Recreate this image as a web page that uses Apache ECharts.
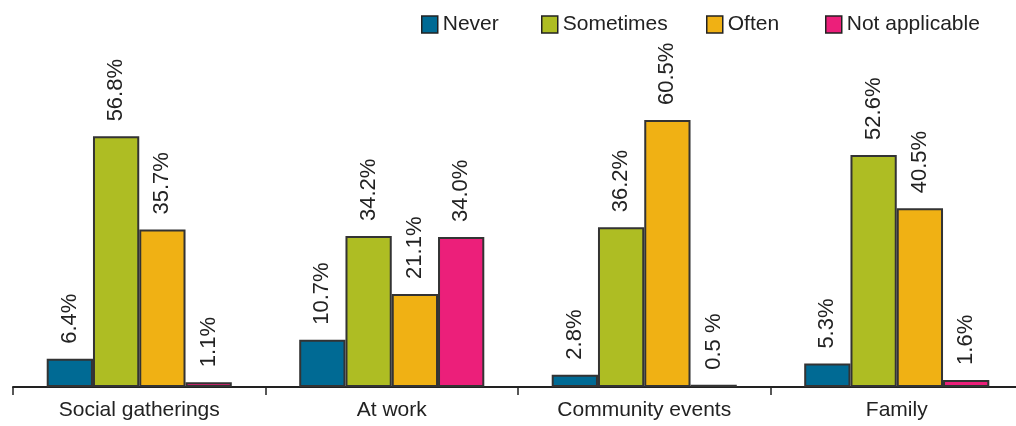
<!DOCTYPE html>
<html>
<head>
<meta charset="utf-8">
<script src="https://cdn.jsdelivr.net/npm/echarts@6/dist/echarts.min.js"></script>
<style>html,body{margin:0;padding:0;background:#fff;overflow:hidden;}#c{width:1023px;height:426px;}</style>
</head>
<body>
<div id="c"></div>
<script>
var categories = ['Social gatherings', 'At work', 'Community events', 'Family'];
var seriesNames = ['Never', 'Sometimes', 'Often', 'Not applicable'];
var never = [6.4, 10.7, 2.8, 5.3];
var sometimes = [56.8, 34.2, 36.2, 52.6];
var often = [35.7, 21.1, 60.5, 40.5];
var notApplicable = [1.1, 34.0, 0.5, 1.6];
var neverLabels = ['6.4%', '10.7%', '2.8%', '5.3%'];
var sometimesLabels = ['56.8%', '34.2%', '36.2%', '52.6%'];
var oftenLabels = ['35.7%', '21.1%', '60.5%', '40.5%'];
var notApplicableLabels = ['1.1%', '34.0%', '0.5 %', '1.6%'];

var colors = ['#006a94', '#aebd23', '#f0b114', '#ec1f7a'];
var FONT = '"Liberation Sans", Arial, Helvetica, sans-serif';
var values = [never, sometimes, often, notApplicable];
var labels = [neverLabels, sometimesLabels, oftenLabels, notApplicableLabels];
var legendLeft = [421, 541, 706, 825];

var chart = echarts.init(document.getElementById('c'));
var option = {
  animation: false,
  legend: seriesNames.map(function (n, i) {
    return {
      data: [n], left: legendLeft[i], top: 14,
      itemWidth: 16, itemHeight: 17, padding: 0,
      icon: 'rect',
      textStyle: { fontSize: 21, fontFamily: FONT, color: '#222' },
      itemStyle: { borderColor: '#222', borderWidth: 1.5 }
    };
  }),
  grid: { left: 13, right: 0, top: 34, bottom: 39 },
  xAxis: {
    type: 'category', data: categories,
    axisLine: { lineStyle: { color: '#222', width: 2 } },
    axisTick: { show: true, alignWithLabel: false, length: 8, lineStyle: { color: '#222', width: 1.5 } },
    axisLabel: { fontSize: 21, fontFamily: FONT, color: '#222', margin: 13 }
  },
  yAxis: { type: 'value', min: 0, max: 80, show: false, splitLine: { show: false } },
  series: seriesNames.map(function (n, i) {
    return {
      name: n, type: 'bar', data: values[i],
      barGap: '0%', barCategoryGap: '26.7%',
      itemStyle: { color: colors[i], borderColor: '#333', borderWidth: 2 },
      label: {
        show: true, position: 'top', rotate: 90, align: 'left', verticalAlign: 'middle',
        distance: 15, fontSize: 22, fontFamily: FONT, color: '#222',
        formatter: function (p) { return labels[i][p.dataIndex]; }
      }
    };
  })
};
chart.setOption(option);
</script>
</body>
</html>
